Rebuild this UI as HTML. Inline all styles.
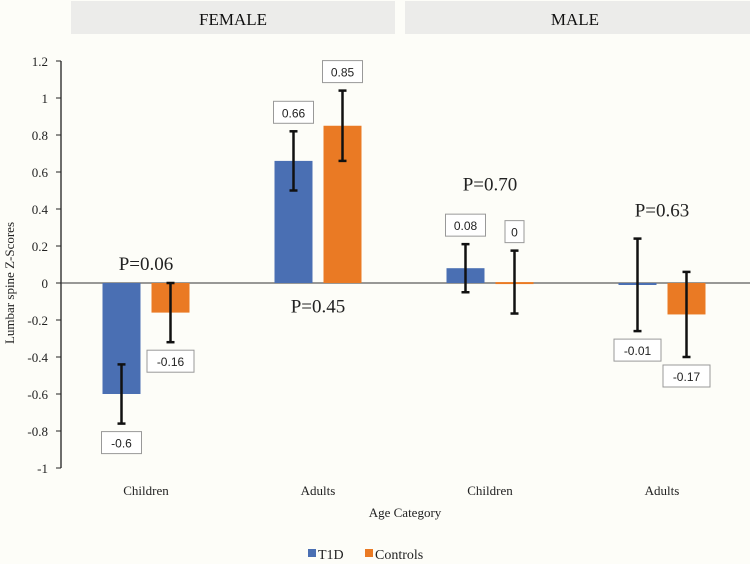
<!DOCTYPE html>
<html><head><meta charset="utf-8"><style>
body{margin:0;background:#fdfdf8;}
svg{display:block;font-family:"Liberation Serif",serif;}
</style></head><body>
<svg id="chart" width="750" height="564" viewBox="0 0 750 564">
<rect x="0" y="0" width="750" height="564" fill="#fdfdf8"/>
<rect x="71" y="1" width="324" height="33" fill="#ececea"/>
<text x="233" y="25" font-size="17" text-anchor="middle" fill="#111">FEMALE</text>
<rect x="405" y="1" width="345" height="33" fill="#ececea"/>
<text x="575" y="25" font-size="17" text-anchor="middle" fill="#111">MALE</text>
<text transform="translate(14,283) rotate(-90)" font-size="13" text-anchor="middle" fill="#222">Lumbar spine Z-Scores</text>
<text x="405" y="517" font-size="13" text-anchor="middle" fill="#222">Age Category</text>
<g id="axes"></g>
<g id="marks"></g>
<g>
<rect x="308" y="549" width="8" height="8" fill="#4a6fb3"/>
<text x="318" y="559" font-size="14" fill="#222">T1D</text>
<rect x="365" y="549" width="8" height="8" fill="#ea7a24"/>
<text x="375" y="559" font-size="14" fill="#222">Controls</text>
</g>
</svg>
<script>
const categories = ["Children","Adults","Children","Adults"];
const t1dValues = [-0.6, 0.66, 0.08, -0.01];
const t1dErrors = [0.16, 0.16, 0.13, 0.25];
const t1dLabels = ["-0.6","0.66","0.08","-0.01"];
const ctrlValues = [-0.16, 0.85, 0.005, -0.17];
const ctrlErrors = [0.16, 0.19, 0.17, 0.23];
const ctrlLabels = ["-0.16","0.85","0","-0.17"];
const pValues = ["P=0.06","P=0.45","P=0.70","P=0.63"];
const pLevels = [0.07, -0.16, 0.50, 0.36];
const yTicks = [1.2,1,0.8,0.6,0.4,0.2,0,-0.2,-0.4,-0.6,-0.8,-1];

const NS="http://www.w3.org/2000/svg";
function y(v){return 283 - v*185;}
function gx(i){return 146 + i*172;}
function mk(tag,attrs,parent){const e=document.createElementNS(NS,tag);for(const k in attrs)e.setAttribute(k,attrs[k]);parent.appendChild(e);return e;}
const axes=document.getElementById('axes'), marks=document.getElementById('marks');

let a=mk('line',{x1:61,y1:y(1.2),x2:61,y2:y(-1),stroke:'#222','stroke-width':1.3},axes);


yTicks.forEach(t=>{
  const l=mk('line',{x1:56,y1:y(t),x2:61,y2:y(t),stroke:'#222'},axes);
  
  
  const tx=mk('text',{x:48,y:y(t)+5,'font-size':13,'text-anchor':'end',fill:'#222'},axes);
  tx.textContent=String(t);
  
  
});
let z=mk('line',{x1:61,y1:y(0),x2:750,y2:y(0),stroke:'#333','stroke-width':1},axes);



function bar(cx,v,err,lab,color,name){
  const top=Math.min(y(v),y(0)), h=Math.max(Math.abs(y(v)-y(0)),2);
  const r=mk('rect',{x:cx-19,y:top,width:38,height:h,fill:color},marks);
  
  
  const hi=y(v+err), lo=y(v-err);
  const g=mk('g',{stroke:'#111','stroke-width':2.5},marks);
  
  
  mk('line',{x1:cx,y1:hi,x2:cx,y2:lo},g);
  mk('line',{x1:cx-4,y1:hi,x2:cx+4,y2:hi},g);
  mk('line',{x1:cx-4,y1:lo,x2:cx+4,y2:lo},g);
  const w=lab.length*7+12, by = v>=0 ? hi-30 : lo+8;
  const b=mk('rect',{x:cx-w/2,y:by,width:w,height:22,fill:'#fff',stroke:'#999','stroke-width':1},marks);
  
  
  const t=mk('text',{x:cx,y:by+16,'font-size':12,'text-anchor':'middle',fill:'#222','font-family':'Liberation Sans, sans-serif'},marks);
  t.textContent=lab;
  
  
}
categories.forEach((c,i)=>{
  const cx=gx(i);
  bar(cx-24.5,t1dValues[i],t1dErrors[i],t1dLabels[i],'#4a6fb3','bar-t1d-'+i);
  bar(cx+24.5,ctrlValues[i],ctrlErrors[i],ctrlLabels[i],'#ea7a24','bar-controls-'+i);
  const ct=mk('text',{x:cx,y:495,'font-size':13,'text-anchor':'middle',fill:'#222'},axes);
  ct.textContent=c;
  
  
  const p=mk('text',{x:cx,y:y(pLevels[i]),'font-size':19,'text-anchor':'middle',fill:'#222'},marks);
  p.textContent=pValues[i];
  
  
});
</script>
</body></html>
